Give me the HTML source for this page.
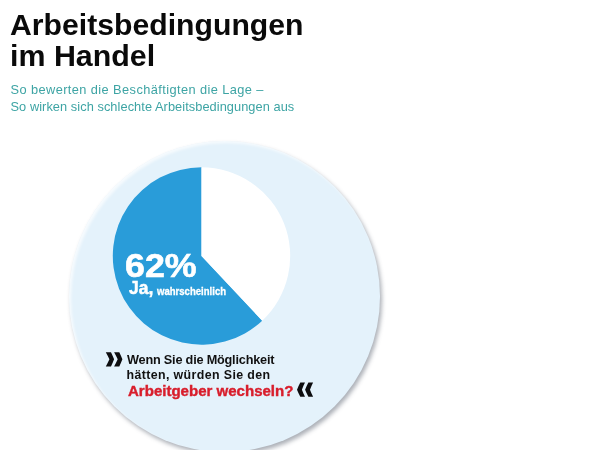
<!DOCTYPE html>
<html lang="de">
<head>
<meta charset="utf-8">
<title>Arbeitsbedingungen im Handel</title>
<style>
html,body{margin:0;padding:0;background:#fff;}
body{width:616px;height:450px;position:relative;overflow:hidden;font-family:"Liberation Sans",sans-serif;}
.t{position:absolute;white-space:nowrap;line-height:1;margin:0;transform-origin:0 0;}
#h1a,#h1b{font-weight:bold;font-size:30.3px;color:#0a0a0a;}
#h1a{left:10.2px;top:9.5px;transform:scaleX(0.9965);}
#h1b{left:9.7px;top:41.4px;transform:scaleX(1.003);}
.sub{font-size:12.8px;color:#3da4a4;letter-spacing:0.3px;}
#s1{left:10.5px;top:84.4px;letter-spacing:0.41px;}
#s2{left:10.5px;top:101px;letter-spacing:0.06px;}
#big{position:absolute;left:68.5px;top:141px;width:311px;height:311px;border-radius:50%;background:#e4f2fb;box-shadow:2px 3px 4px rgba(70,80,95,.45), inset 2px 2px 3px rgba(255,255,255,.7);}
svg{position:absolute;left:0;top:0;}
#pct{color:#fff;font-weight:bold;font-size:33.8px;left:125px;top:249.1px;transform:scaleX(1.06);-webkit-text-stroke-width:0.6px;}
#ja{color:#fff;font-weight:bold;font-size:19px;left:128.5px;top:278.3px;transform:scaleX(0.92);-webkit-text-stroke-width:0.5px;}
#wahr{color:#fff;font-weight:bold;font-size:10.5px;left:157px;top:286.1px;transform:scaleX(0.91);-webkit-text-stroke-width:0.3px;}
.q{font-weight:bold;font-size:12.4px;color:#111;}
#q1{left:127px;top:353.6px;font-size:12.7px;letter-spacing:-0.2px;}
#q2{left:126.5px;top:369px;letter-spacing:0.38px;}
#q3{left:127.5px;top:384.1px;color:#d81e2c;font-size:14.6px;transform:scaleX(1.03);-webkit-text-stroke-width:0.4px;}
</style>
</head>
<body>
<div id="big"></div>
<svg width="616" height="450" viewBox="0 0 616 450">
  <path d="M201.5 256 L201.5 167.3 A88.7 88.7 0 1 0 262.22 320.66 Z" fill="#299cd9"/>
  <path d="M201.5 256 L201.5 167.3 A88.7 88.7 0 0 1 262.22 320.66 Z" fill="#ffffff"/>
  <g fill="#0d0d0f">
    <path d="M105.8 352.2 L111 352.2 Q112.7 355.7 114.1 359.3 Q112.7 362.9 111 366.5 L105.8 366.5 Q107.8 362.9 109.4 359.3 Q107.8 355.7 105.8 352.2 Z"/>
    <path d="M105.8 352.2 L111 352.2 Q112.7 355.7 114.1 359.3 Q112.7 362.9 111 366.5 L105.8 366.5 Q107.8 362.9 109.4 359.3 Q107.8 355.7 105.8 352.2 Z" transform="translate(8.3 0)"/>
    <path d="M305 382.6 L300.3 382.6 Q298.5 386 297 389.7 Q298.5 393.4 300.3 396.8 L305 396.8 Q303.3 393.4 301.9 389.7 Q303.3 386 305 382.6 Z"/>
    <path d="M305 382.6 L300.3 382.6 Q298.5 386 297 389.7 Q298.5 393.4 300.3 396.8 L305 396.8 Q303.3 393.4 301.9 389.7 Q303.3 386 305 382.6 Z" transform="translate(8.1 0)"/>
  </g>
</svg>
<h1 class="t" id="h1a">Arbeitsbedingungen</h1>
<h1 class="t" id="h1b">im Handel</h1>
<p class="t sub" id="s1">So bewerten die Beschäftigten die Lage –</p>
<p class="t sub" id="s2">So wirken sich schlechte Arbeitsbedingungen aus</p>
<div class="t" id="pct">62%</div>
<div class="t" id="ja">Ja,</div>
<div class="t" id="wahr">wahrscheinlich</div>
<div class="t q" id="q1">Wenn Sie die Möglichkeit</div>
<div class="t q" id="q2">hätten, würden Sie den</div>
<div class="t q" id="q3">Arbeitgeber wechseln?</div>
</body>
</html>
